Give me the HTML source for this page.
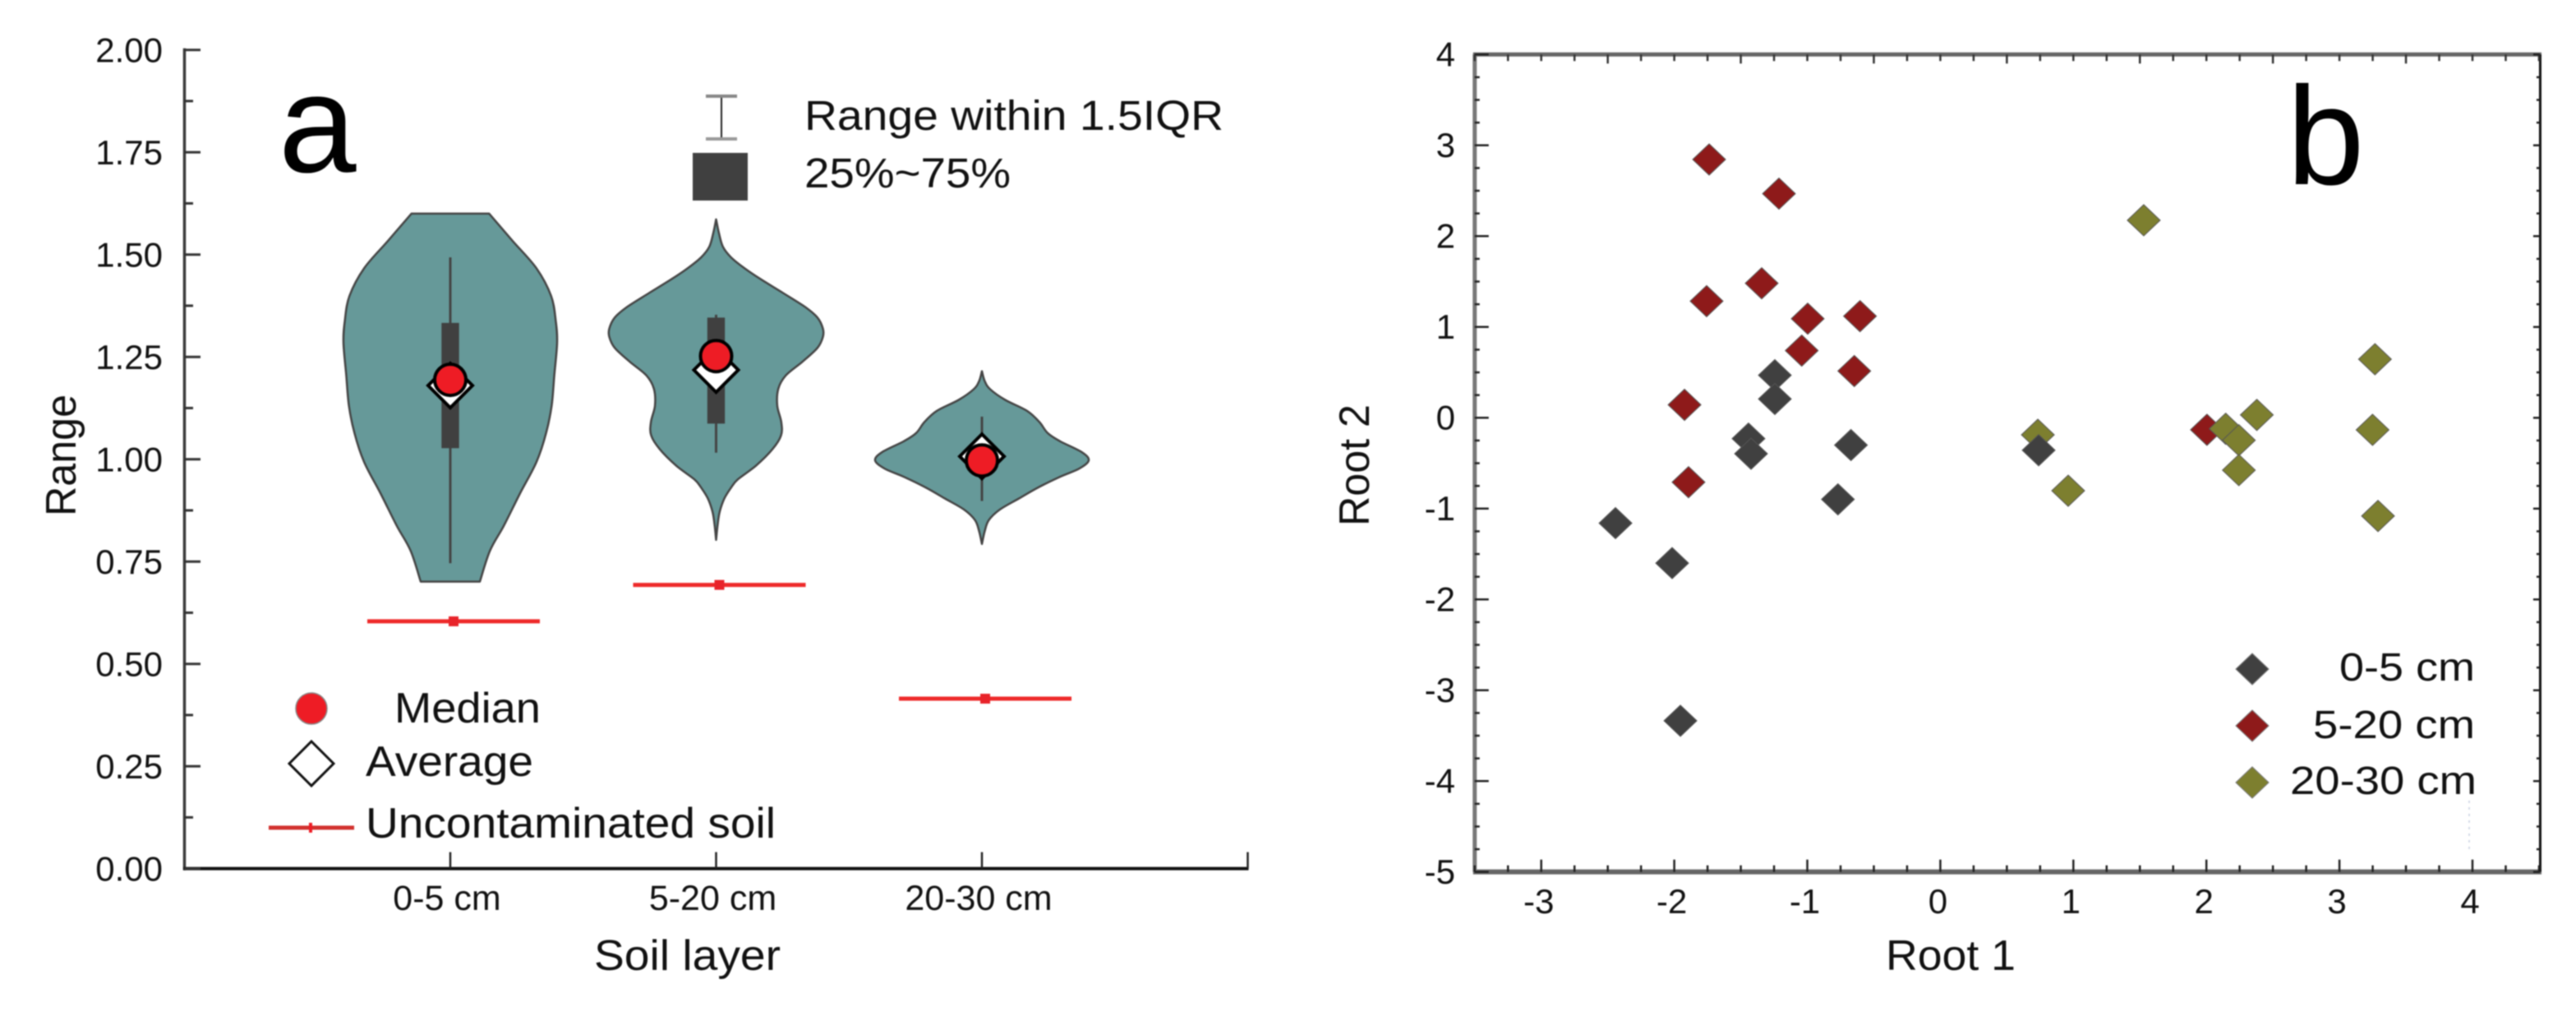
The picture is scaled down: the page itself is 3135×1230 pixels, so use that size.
<!DOCTYPE html>
<html>
<head>
<meta charset="utf-8">
<title>Soil layer violin plot and discriminant scatter</title>
<style>
html,body{margin:0;padding:0;background:#fff;width:3135px;height:1230px;overflow:hidden}
svg{display:block;filter:blur(0.7px)}
text{font-family:"Liberation Sans",sans-serif;fill:#111}
</style>
</head>
<body>
<svg id="fig" xmlns="http://www.w3.org/2000/svg" width="3135" height="1230" viewBox="0 0 3135 1230">
  <rect x="0" y="0" width="3135" height="1230" fill="#fff"/>
  <g id="panelA"></g>
  <g id="panelB"></g>

  <text x="339" y="209" font-size="170" style="fill:#000">a</text>
  <text x="2783" y="224" font-size="170" style="fill:#000">b</text>

  <text transform="translate(92,628) rotate(-90)" font-size="52" textLength="148" lengthAdjust="spacingAndGlyphs">Range</text>
  <text x="723" y="1180" font-size="52" textLength="227" lengthAdjust="spacingAndGlyphs">Soil layer</text>
  <text transform="translate(1666,640) rotate(-90)" font-size="52" textLength="148" lengthAdjust="spacingAndGlyphs">Root 2</text>
  <text x="2295" y="1180" font-size="52" textLength="158" lengthAdjust="spacingAndGlyphs">Root 1</text>

  <g>
    <line x1="878" x2="878" y1="117" y2="169" stroke="#222" stroke-width="2"/>
    <line x1="859" x2="897" y1="117" y2="117" stroke="#888" stroke-width="4"/>
    <line x1="859" x2="897" y1="169" y2="169" stroke="#999" stroke-width="4"/>
    <rect x="843" y="186" width="67" height="58" fill="#404040"/>
    <text x="979" y="158" font-size="51" textLength="510" lengthAdjust="spacingAndGlyphs">Range within 1.5IQR</text>
    <text x="979" y="228" font-size="51" textLength="251" lengthAdjust="spacingAndGlyphs">25%~75%</text>
  </g>

  <g>
    <circle cx="379" cy="862" r="19" fill="#ee1c25" stroke="#888" stroke-width="1.5"/>
    <text x="480" y="879" font-size="52" textLength="178" lengthAdjust="spacingAndGlyphs">Median</text>
    <polygon points="379,902 406,929 379,956 352,929" fill="#fff" stroke="#111" stroke-width="3"/>
    <text x="445" y="944" font-size="52" textLength="204" lengthAdjust="spacingAndGlyphs">Average</text>
    <line x1="327" x2="431" y1="1007" y2="1007" stroke="#d2322f" stroke-width="5"/>
    <line x1="378" x2="378" y1="1001" y2="1013" stroke="#ee1c25" stroke-width="4"/>
    <text x="445" y="1019" font-size="52" textLength="499" lengthAdjust="spacingAndGlyphs">Uncontaminated soil</text>
  </g>

  <g>
    <polygon points="2741,795 2761,814 2741,833 2721,814" fill="#404040" stroke="#777" stroke-width="1"/>
    <text x="2847" y="828" font-size="48" textLength="165" lengthAdjust="spacingAndGlyphs">0-5 cm</text>
    <polygon points="2741,864 2761,883 2741,902 2721,883" fill="#8e1a1a" stroke="#777" stroke-width="1"/>
    <text x="2815" y="898" font-size="48" textLength="197" lengthAdjust="spacingAndGlyphs">5-20 cm</text>
    <polygon points="2741,933 2761,952 2741,971 2721,952" fill="#7d7f2f" stroke="#777" stroke-width="1"/>
    <text x="2787" y="966" font-size="48" textLength="227" lengthAdjust="spacingAndGlyphs">20-30 cm</text>
  </g>
  <line x1="3005" x2="3005" y1="974" y2="1033" stroke="#c8d0e0" stroke-width="1.5" stroke-dasharray="3 5"/>
</svg>

<script>
// ---------- Panel A data ----------
const layerLabels = ['0-5 cm', '5-20 cm', '20-30 cm'];
const rangeTickValues = [0, 0.25, 0.5, 0.75, 1, 1.25, 1.5, 1.75, 2];
const rangeTickLabels = ['0.00', '0.25', '0.50', '0.75', '1.00', '1.25', '1.50', '1.75', '2.00'];
const rangeMinorTicks = [0.125, 0.375, 0.625, 0.875, 1.125, 1.375, 1.625, 1.875];

const violinLevels0 = [1.6, 1.533, 1.466, 1.399, 1.339, 1.285, 1.205, 1.131, 1.064, 0.994, 0.917, 0.837, 0.777, 0.701];
const violinDensity0 = [0.364, 0.585, 0.808, 0.944, 0.987, 1, 0.974, 0.949, 0.897, 0.808, 0.654, 0.5, 0.372, 0.277];
const violinLevels1 = [1.586, 1.553, 1.519, 1.493, 1.466, 1.439, 1.406, 1.372, 1.346, 1.319, 1.299, 1.272, 1.238, 1.205, 1.172, 1.131, 1.091, 1.058, 1.024, 0.984, 0.951, 0.931, 0.904, 0.871, 0.837, 0.803];
const violinDensity1 = [0, 0.026, 0.064, 0.141, 0.269, 0.423, 0.628, 0.833, 0.949, 1, 1, 0.949, 0.808, 0.654, 0.582, 0.572, 0.61, 0.608, 0.526, 0.372, 0.205, 0.141, 0.077, 0.033, 0.013, 0];
const violinLevels2 = [1.215, 1.191, 1.171, 1.145, 1.118, 1.091, 1.064, 1.044, 1.017, 0.997, 0.977, 0.957, 0.931, 0.904, 0.877, 0.851, 0.824, 0.793];
const violinDensity2 = [0, 0.026, 0.077, 0.218, 0.423, 0.538, 0.615, 0.731, 0.936, 1, 0.91, 0.731, 0.526, 0.346, 0.167, 0.064, 0.026, 0];

const whiskerHigh = [1.493, 1.353, 1.104];
const whiskerLow = [0.746, 1.016, 0.898];
const boxHigh = [1.333, 1.346, 1.02];
const boxLow = [1.027, 1.087, 0.98];
const medians = [1.194, 1.252, 0.997];
const averages = [1.18, 1.218, 1.007];
const uncontaminated = [0.604, 0.693, 0.415];

// ---------- Panel B data ----------
const rootXTicks = [-3, -2, -1, 0, 1, 2, 3, 4];
const rootYTicks = [-5, -4, -3, -2, -1, 0, 1, 2, 3, 4];
const topLong = [-2.5, -1.5, -0.5, 0.5, 1.5, 2.5, 3.5];
const shallowX = [-1.244, -1.244, -1.442, -1.423, -0.672, 0.739, -0.77, -2.442, -2.016, -1.954];
const shallowY = [0.469, 0.207, -0.229, -0.396, -0.3, -0.357, -0.898, -1.16, -1.6, -3.336];
const middleX = [-1.738, -1.213, -1.343, -1.757, -0.997, -0.604, -1.042, -0.647, -1.923, -1.893, 2.004];
const middleY = [2.844, 2.468, 1.481, 1.284, 1.091, 1.119, 0.74, 0.515, 0.143, -0.709, -0.132];
const deepX = [1.529, 3.267, 3.249, 2.379, 2.145, 2.244, 2.244, 0.733, 0.961, 3.29];
const deepY = [2.175, 0.645, -0.133, 0.032, -0.121, -0.247, -0.576, -0.187, -0.803, -1.081];

// ---------- Helpers ----------
const NS = 'http://www.w3.org/2000/svg';
function make(tag, parent, attrs) {
  const n = document.createElementNS(NS, tag);
  for (const k in attrs) n.setAttribute(k, attrs[k]);
  parent.appendChild(n);
  return n;
}
function smoothSegments(pts) {
  let d = '';
  for (let i = 0; i < pts.length - 1; i++) {
    const p0 = pts[Math.max(0, i - 1)], p1 = pts[i], p2 = pts[i + 1], p3 = pts[Math.min(pts.length - 1, i + 2)];
    const c1x = p1[0] + (p2[0] - p0[0]) / 6, c1y = p1[1] + (p2[1] - p0[1]) / 6;
    const c2x = p2[0] - (p3[0] - p1[0]) / 6, c2y = p2[1] - (p3[1] - p1[1]) / 6;
    d += 'C' + c1x.toFixed(1) + ' ' + c1y.toFixed(1) + ' ' + c2x.toFixed(1) + ' ' + c2y.toFixed(1) + ' ' + p2[0].toFixed(1) + ' ' + p2[1].toFixed(1);
  }
  return d;
}

// ---------- Panel A axes ----------
const A = document.getElementById('panelA');
const xA = c => 224.5 + 323.5 * c;           // category position 0..4
const yA = v => 1056.7 - 498 * v;
const violinHalf = 130;
const violinLevels = [violinLevels0, violinLevels1, violinLevels2];
const violinDensity = [violinDensity0, violinDensity1, violinDensity2];

const axisLeftA = make('line', A, {x1: 224.5, x2: 224.5, y1: yA(2) - 2, y2: yA(0) + 2, stroke: '#3a3a3a', 'stroke-width': 3.5});


const axisBottomA = make('line', A, {x1: 223, x2: xA(4) + 1, y1: yA(0), y2: yA(0), stroke: '#111', 'stroke-width': 4});



rangeTickValues.forEach((v, i) => {
  const t = make('line', A, {x1: 224, x2: 244, y1: yA(v), y2: yA(v), stroke: '#333', 'stroke-width': 3});
  
  
  const l = make('text', A, {x: 198, y: yA(v) + 15, 'font-size': 42, 'text-anchor': 'end'});
  l.textContent = rangeTickLabels[i];
  
  
});
rangeMinorTicks.forEach(v => {
  const t = make('line', A, {x1: 224, x2: 235, y1: yA(v), y2: yA(v), stroke: '#333', 'stroke-width': 3});
  
  
});
[1, 2, 3, 4].forEach(c => {
  const t = make('line', A, {x1: xA(c), x2: xA(c), y1: yA(0), y2: yA(0) - 20, stroke: '#222', 'stroke-width': 2.5});
  
  
});
layerLabels.forEach((name, i) => {
  const l = make('text', A, {x: xA(i + 1) - 4, y: 1107, 'font-size': 43, 'text-anchor': 'middle'});
  l.textContent = name;
  
  
});

// ---------- Panel A marks ----------
layerLabels.forEach((name, i) => {
  const cx = xA(i + 1);
  const levels = violinLevels[i], dens = violinDensity[i];
  const right = levels.map((v, k) => [cx + dens[k] * violinHalf, yA(v)]);
  const left = levels.map((v, k) => [cx - dens[k] * violinHalf, yA(v)]).reverse();
  const d = 'M' + right[0][0] + ' ' + right[0][1] + smoothSegments(right) +
            'L' + left[0][0] + ' ' + left[0][1] + smoothSegments(left) + 'Z';
  const body = make('path', A, {d: d, fill: '#669999', stroke: '#444', 'stroke-width': 2.5, 'stroke-linejoin': 'round'});
  
  

  const wh = make('line', A, {x1: cx, x2: cx, y1: yA(whiskerHigh[i]), y2: yA(whiskerLow[i]), stroke: '#444', 'stroke-width': 3});
  
  

  const box = make('rect', A, {x: cx - 10.7, y: yA(boxHigh[i]), width: 21.4, height: yA(boxLow[i]) - yA(boxHigh[i]), fill: '#404040'});
  
  

  const ay = yA(averages[i]), s = 27;
  const mean = make('polygon', A, {points: [cx, ay - s, cx + s, ay, cx, ay + s, cx - s, ay].join(' '), fill: '#fff', stroke: '#000', 'stroke-width': 4});
  
  

  const med = make('circle', A, {cx: cx, cy: yA(medians[i]), r: 19, fill: '#ee1c25', stroke: '#000', 'stroke-width': 4});
  
  

  const lx = cx + 4, ly = yA(uncontaminated[i]);
  const ref = make('line', A, {x1: lx - 105, x2: lx + 105, y1: ly, y2: ly, stroke: '#ee2a2a', 'stroke-width': 5});
  
  
  const refDot = make('rect', A, {x: lx - 6, y: ly - 6, width: 12, height: 12, fill: '#e8232a'});
  
  
});

// ---------- Panel B axes ----------
const B = document.getElementById('panelB');
const xB = v => 2361.4 + 161.9 * v;
const yB = v => 508.3 - 110.5 * v;
const xMin = -3.5, xMax = 4.5, yMin = -5, yMax = 4;

const topB = make('line', B, {x1: xB(xMin) - 2, x2: xB(xMax) + 3, y1: yB(yMax), y2: yB(yMax), stroke: '#666', 'stroke-width': 5});


const bottomB = make('line', B, {x1: xB(xMin) - 2, x2: xB(xMax) + 3, y1: yB(yMin), y2: yB(yMin), stroke: '#666', 'stroke-width': 6});


const leftB = make('line', B, {x1: xB(xMin), x2: xB(xMin), y1: yB(yMax), y2: yB(yMin), stroke: '#777', 'stroke-width': 5});


const rightB = make('line', B, {x1: xB(xMax) + 1.5, x2: xB(xMax) + 1.5, y1: yB(yMax), y2: yB(yMin), stroke: '#111', 'stroke-width': 3});



for (let q = 0; q <= 32; q++) {
  const v = xMin + q * 0.25;
  const isTopLong = topLong.indexOf(v) >= 0;
  const t = make('line', B, {x1: xB(v), x2: xB(v), y1: yB(yMax), y2: yB(yMax) + (isTopLong ? 11 : 8), stroke: '#333', 'stroke-width': 2.5});
  
  
  const isMajor = rootXTicks.indexOf(v) >= 0;
  const b = make('line', B, {x1: xB(v), x2: xB(v), y1: yB(yMin), y2: yB(yMin) - (isMajor ? 15 : 8), stroke: '#222', 'stroke-width': 2.5});
  
  
}
for (let q = 0; q <= 36; q++) {
  const v = yMin + q * 0.25;
  const isMajor = rootYTicks.indexOf(v) >= 0;
  const t = make('line', B, {x1: xB(xMin), x2: xB(xMin) + (isMajor ? 17 : 6), y1: yB(v), y2: yB(v), stroke: '#222', 'stroke-width': 2.5});
  
  
  const r = make('line', B, {x1: xB(xMax) + 1, x2: xB(xMax) - (isMajor ? 7 : 3), y1: yB(v), y2: yB(v), stroke: '#222', 'stroke-width': 2.5});
  
  
}
rootXTicks.forEach(v => {
  const l = make('text', B, {x: xB(v) - 3, y: 1111, 'font-size': 42, 'text-anchor': 'middle'});
  l.textContent = String(v);
  
  
});
rootYTicks.forEach(v => {
  const l = make('text', B, {x: 1771, y: yB(v) + 14, 'font-size': 42, 'text-anchor': 'end'});
  l.textContent = String(v);
  
  
});

// ---------- Panel B marks (drawn red, olive, then gray as in the source) ----------
function diamond(px, py, fill, parent) {
  return make('polygon', parent, {points: [px, py - 19, px + 20, py, px, py + 19, px - 20, py].join(' '), fill: fill, stroke: '#555', 'stroke-width': 1});
}
middleX.forEach((v, i) => {
  const p = diamond(xB(v), yB(middleY[i]), '#8e1a1a', B);
  
  
});
deepX.forEach((v, i) => {
  const p = diamond(xB(v), yB(deepY[i]), '#7d7f2f', B);
  
  
});
shallowX.forEach((v, i) => {
  const p = diamond(xB(v), yB(shallowY[i]), '#404040', B);
  
  
});
</script>
</body>
</html>
